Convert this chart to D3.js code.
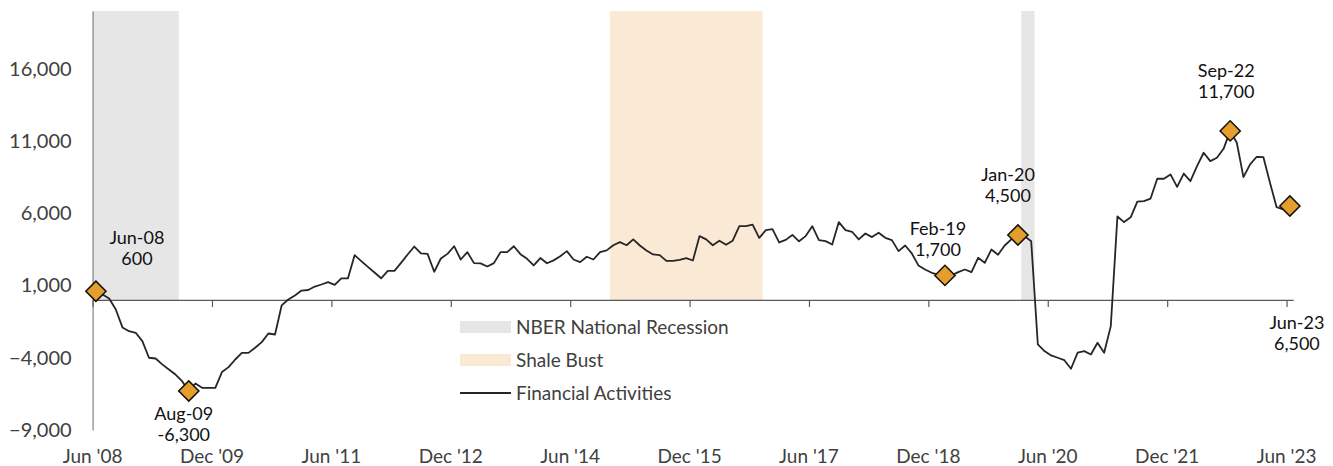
<!DOCTYPE html>
<html>
<head>
<meta charset="utf-8">
<script src="https://cdn.jsdelivr.net/npm/d3@7"></script>
<style>
  body { margin: 0; background: #fff; }
  svg { display: block; font-family: Lato, "Open Sans", sans-serif; }
</style>
</head>
<body>
<svg id="chart" width="1333" height="466"></svg>
<script>
// months from Jun 2008 to Jun 2023 (one category per month)
const months = d3.timeMonths(new Date(2008, 5, 1), new Date(2023, 6, 1));

// year over year change, financial activities jobs
const finValues = [
  600, 380, 100, -660, -1900, -2160, -2270, -2850, -4000, -4050, -4460, -4810, -5160, -5620, -6300,
  -5780, -6080, -6080, -6080, -4990, -4650, -4120, -3660, -3660, -3310, -2920, -2320, -2390, -380, 35,
  310, 650, 690, 930, 1070, 1230, 1050, 1500, 1500, 3100, 2690, 2290, 1900, 1500, 2010,
  2010, 2570, 3150, 3700, 3220, 3190, 1950, 2870, 3190, 3720, 2800, 3310, 2550, 2530, 2320,
  2550, 3310, 3310, 3720, 3170, 2850, 2390, 2900, 2540, 2740, 3030, 3380, 2800, 2620, 2990,
  2800, 3310, 3430, 3790, 4000, 3790, 4190, 3770, 3430, 3150, 3100, 2710, 2710, 2780, 2890,
  2730, 4420, 4190, 3790, 4100, 3820, 4100, 5110, 5110, 5220, 4300, 4830, 4900, 3980, 4160,
  4500, 4060, 4420, 5110, 4140, 4070, 3840, 5390, 4830, 4720, 4190, 4600, 4350, 4650, 4300,
  4140, 3380, 3770, 3220, 2390, 2110, 1880, 1760, 1700, 1700, 1930, 2110, 1930, 2920, 2570,
  3490, 3130, 3770, 4190, 4500, 4420, 4070, -3080, -3540, -3840, -4000, -4170, -4760, -3650, -3540,
  -3770, -2960, -3650, -1810, 5780, 5390, 5720, 6800, 6840, 7020, 8390, 8390, 8690, 7830, 8750,
  8220, 9260, 10190, 9610, 9840, 10460, 11700, 10880, 8500, 9380, 9910, 9890, 8110, 6420, 6260,
  6500
];

// shaded periods, [first month index, month index after last]
const recessions = [[0, 13], [140, 142]];
const shaleBust = [[78, 101]];

// callouts: month index, label, value text
const calloutIdx = [0, 14, 128, 139, 171, 180];
const calloutDates = ['Jun-08', 'Aug-09', 'Feb-19', 'Jan-20', 'Sep-22', 'Jun-23'];
const calloutText = ['600', '-6,300', '1,700', '4,500', '11,700', '6,500'];
// label offsets from the marker (layout only)
const calloutOffset = [[41, -54], [-5, 23], [-7, -47], [-10, -60], [-4, -60], [7, 117]];

const yTicks = [-9000, -4000, 1000, 6000, 11000, 16000];
const xTickIdx = d3.range(0, 181, 18);

const legendItems = ['NBER National Recession', 'Shale Bust', 'Financial Activities'];

const svg = d3.select('#chart');
const x = d3.scaleLinear().domain([0, months.length]).range([92.6, 1293.2]);
const y = d3.scaleLinear().domain([-9000, 20000]).range([430, 11]);
const fmtMonth = d3.timeFormat("%b '%y");
const grey = '#404040';

// bands
svg.selectAll('rect.rec')
  .data(recessions)
  .enter().append('rect')
  .attr('class', 'rec')
  .attr('x', d => x(d[0]))
  .attr('width', d => x(d[1]) - x(d[0]))
  .attr('y', y(20000))
  .attr('height', y(0) - y(20000))
  .attr('fill', '#e6e6e6');

svg.selectAll('rect.shale')
  .data(shaleBust)
  .enter().append('rect')
  .attr('class', 'shale')
  .attr('x', d => x(d[0]))
  .attr('width', d => x(d[1]) - x(d[0]))
  .attr('y', y(20000))
  .attr('height', y(0) - y(20000))
  .attr('fill', '#fae9d5');

// y axis
const yAxis = svg.append('g')
  .attr('transform', `translate(${x(0)},0)`)
  .call(d3.axisLeft(y).tickValues(yTicks).tickSize(0).tickSizeOuter(0).tickPadding(21)
    .tickFormat(d3.format(',')));
yAxis.select('.domain').attr('stroke', '#8c8c8c').attr('stroke-width', 1.3);
yAxis.selectAll('text').attr('font-size', 20).attr('fill', grey).attr('font-family', 'Lato');

// x axis line at zero with ticks
const xAxis = svg.append('g')
  .attr('transform', `translate(0,${y(0)})`)
  .call(d3.axisBottom(x).tickValues(xTickIdx).tickSize(7).tickSizeOuter(0).tickFormat(''));
xAxis.select('.domain').attr('stroke', '#595959').attr('stroke-width', 1.3);
xAxis.selectAll('.tick line').attr('stroke', '#595959').attr('stroke-width', 1.2);

// x labels along the bottom
svg.selectAll('text.xlab')
  .data(xTickIdx)
  .enter().append('text')
  .attr('class', 'xlab')
  .attr('x', d => x(d))
  .attr('y', 463)
  .attr('text-anchor', 'middle')
  .attr('font-size', 19)
  .attr('fill', grey)
  .text(d => fmtMonth(months[d]));

// line
const line = d3.line()
  .x((d, i) => x(i + 0.5))
  .y(d => y(d));

svg.append('path')
  .datum(finValues)
  .attr('d', line)
  .attr('fill', 'none')
  .attr('stroke', '#262626')
  .attr('stroke-width', 1.8)
  .attr('stroke-linejoin', 'round');

// markers
svg.selectAll('path.marker')
  .data(calloutIdx)
  .enter().append('path')
  .attr('class', 'marker')
  .attr('d', d3.symbol(d3.symbolSquare, 205))
  .attr('transform', d => `translate(${x(d + 0.5)},${y(finValues[d])}) rotate(45)`)
  .attr('fill', '#e59e2b')
  .attr('stroke', '#111')
  .attr('stroke-width', 1.5);

// callout labels
const labels = svg.selectAll('g.callout')
  .data(calloutIdx)
  .enter().append('g')
  .attr('class', 'callout')
  .attr('transform', (d, i) => `translate(${x(d + 0.5) + calloutOffset[i][0]},${y(finValues[d]) + calloutOffset[i][1]})`);

labels.append('text')
  .attr('text-anchor', 'middle')
  .attr('dy', '0.35em')
  .attr('font-size', 18)
  .attr('fill', '#111')
  .text((d, i) => calloutDates[i]);

labels.append('text')
  .attr('text-anchor', 'middle')
  .attr('y', 21)
  .attr('dy', '0.35em')
  .attr('font-size', 18)
  .attr('fill', '#111')
  .text((d, i) => calloutText[i]);

// legend
const legend = svg.append('g').attr('transform', 'translate(460,327)');
const legendRow = legend.selectAll('g')
  .data(legendItems)
  .enter().append('g')
  .attr('transform', (d, i) => `translate(0,${i * 33})`);

legendRow.filter((d, i) => i < 2).append('rect')
  .attr('x', 0)
  .attr('y', -6)
  .attr('width', 51)
  .attr('height', 12)
  .attr('fill', (d, i) => i === 0 ? '#e6e6e6' : '#fae9d5');

legendRow.filter((d, i) => i === 2).append('line')
  .attr('x1', 0).attr('x2', 51)
  .attr('y1', 0).attr('y2', 0)
  .attr('stroke', '#262626')
  .attr('stroke-width', 2);

legendRow.append('text')
  .attr('x', 56)
  .attr('dy', '0.35em')
  .attr('font-size', 19)
  .attr('fill', grey)
  .text(d => d);
</script>
</body>
</html>
